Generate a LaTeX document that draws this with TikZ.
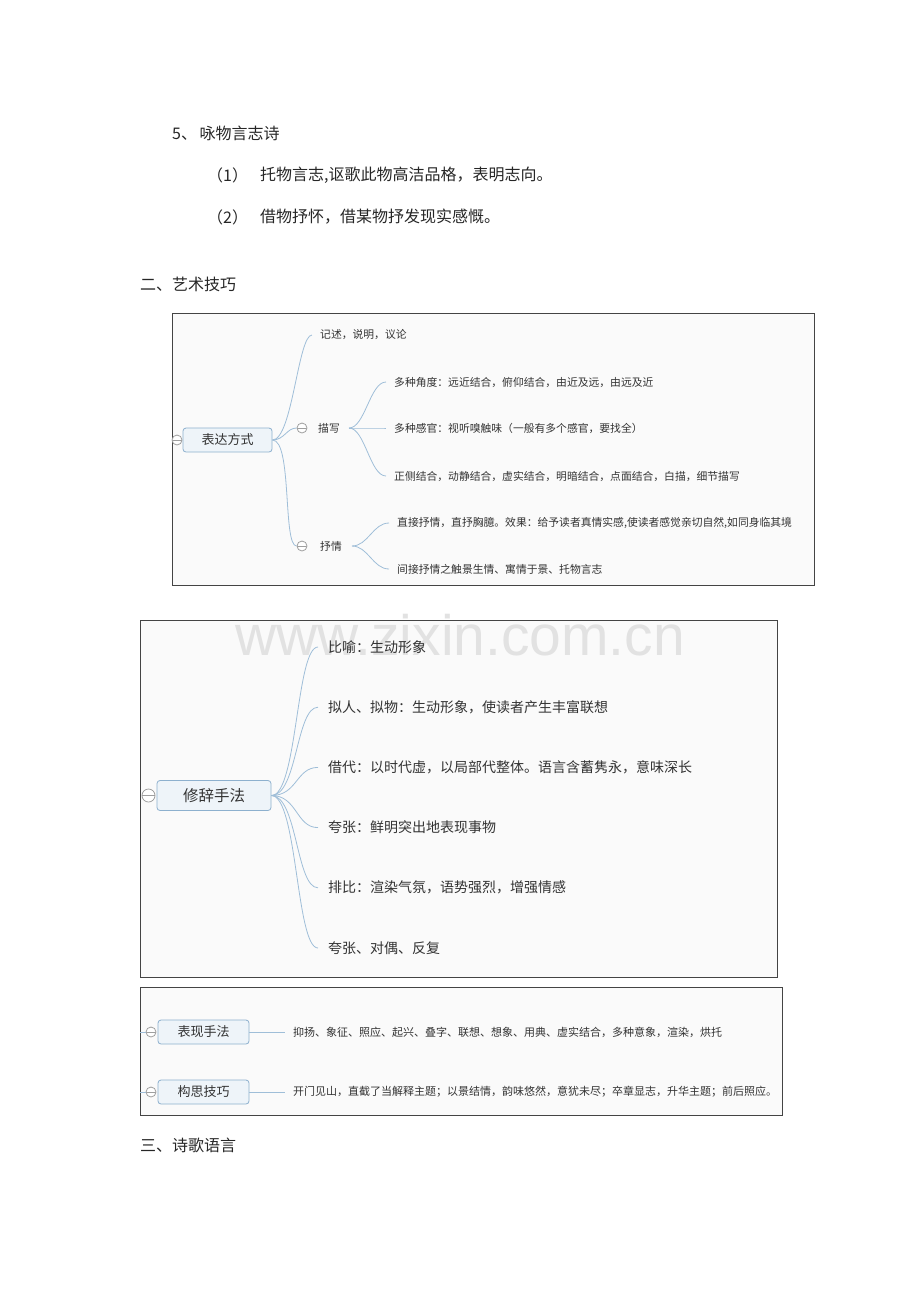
\documentclass[tikz,border=0pt]{standalone}
\usepackage{fontspec}
\setmainfont{Noto Sans CJK SC}
\newfontfamily\wmfont{Liberation Sans}
\definecolor{linkblue}{HTML}{9FBED8}
\definecolor{rootfill}{HTML}{EEF4F9}
\definecolor{rootdraw}{HTML}{8DB0CE}
\definecolor{framegray}{HTML}{444444}
\definecolor{inktext}{HTML}{333333}
\definecolor{wmgray}{HTML}{E2E2E2}
\begin{document}
\begin{tikzpicture}[x=1pt,y=-1pt,
	frame/.style={draw=framegray,line width=0.9pt,fill=white!98!black},
	rootbox/.style={draw=rootdraw,fill=rootfill,rounded corners=3pt,line width=0.8pt,text=inktext,inner sep=0pt},
	leaf/.style={anchor=west,inner xsep=8pt,inner ysep=1pt,text=inktext,font=\fontsize{10.8}{12}\selectfont},
	smallleaf/.style={leaf,font=\fontsize{11}{12}\selectfont},
	bigleaf/.style={leaf,inner xsep=10pt,font=\fontsize{14}{16}\selectfont},
	fold/.style={circle,draw=gray!75,fill=white,line width=0.8pt,minimum size=10pt,inner sep=0pt,
		path picture={\draw[gray!75,line width=0.8pt] (path picture bounding box.west)--(path picture bounding box.east);}},
	branch/.style={draw=linkblue,line width=0.8pt},
	doc/.style={anchor=west,inner sep=0pt,text=black!85,font=\fontsize{16}{18}\selectfont}]
	\useasboundingbox (0,0) rectangle (920,1302);
	% text above the maps
	\node[doc] (poem) at (172,133) {5、\,咏物言志诗};
	\node[doc] (num1) at (207,175) {（1）};
	\node[doc] (item1) at (260,175) {托物言志,讴歌此物高洁品格，表明志向。};
	\node[doc] (num2) at (207,217) {（2）};
	\node[doc] (item2) at (260,217) {借物抒怀，借某物抒发现实感慨。};
	\node[doc] (sec2) at (140,284) {二、艺术技巧};
	% map 1
	\draw[frame] (172,313) rectangle (814,585);
	\node[rootbox,minimum width=89pt,minimum height=24pt,font=\fontsize{13}{15}\selectfont] (expr) at (227.5,440) {表达方式};
	\node[fold] (exprfold) at (177,440) {};
	\node[leaf] (narr) at (312,335) {记述，说明，议论};
	\node[fold] (descfold) at (302,428) {};
	\node[leaf,inner xsep=0pt] (desc) at (318,428) {描写};
	\node[fold] (lyrfold) at (302,546) {};
	\node[leaf,inner xsep=0pt] (lyr) at (320,546) {抒情};
	\draw[branch] (expr.east) .. controls +(20,0) and +(-14,0) .. (narr.west);
	\draw[branch] (expr.east) .. controls +(12,0) and +(-10,0) .. (descfold.west);
	\draw[branch] (expr.east) .. controls +(20,0) and +(-14,0) .. (lyrfold.west);
	\coordinate (descout) at ([xshift=9pt]desc.east);
	\coordinate (lyrout) at ([xshift=10pt]lyr.east);
	\node[leaf] (angle) at (386,382) {多种角度：远近结合，俯仰结合，由近及远，由远及近};
	\node[leaf] (sense) at (386,428) {多种感官：视听嗅触味（一般有多个感官，要找全）};
	\node[leaf] (side) at (386,476) {正侧结合，动静结合，虚实结合，明暗结合，点面结合，白描，细节描写};
	\node[leaf] (direct) at (389,523) {直接抒情，直抒胸臆。效果：给予读者真情实感,使读者感觉亲切自然,如同身临其境};
	\node[leaf] (indirect) at (389,569) {间接抒情之触景生情、寓情于景、托物言志};
	\foreach \n in {angle,sense,side}\draw[branch] (descout) .. controls +(16,0) and +(-16,0) .. (\n.west);
	\foreach \n in {direct,indirect}\draw[branch] (lyrout) .. controls +(16,0) and +(-16,0) .. (\n.west);
	% map 2
	\draw[frame] (140,620) rectangle (777,977);
	\node[anchor=base west,inner sep=0pt,text=wmgray,font=\wmfont\fontsize{57}{60}\selectfont] (mark) at (235,655) {www.zixin.com.cn};
	\node[rootbox,minimum width=114pt,minimum height=30pt,font=\fontsize{15.5}{18}\selectfont] (rhet) at (214,795.5) {修辞手法};
	\node[fold,minimum size=13pt] (rhetfold) at (148.5,795.5) {};
	\foreach \txt [count=\i] in {比喻：生动形象,拟人、拟物：生动形象，使读者产生丰富联想,借代：以时代虚，以局部代整体。语言含蓄隽永，意味深长,夸张：鲜明突出地表现事物,排比：渲染气氛，语势强烈，增强情感,夸张、对偶、反复}{
		\node[bigleaf] (rhet\i) at (318,{647+60.2*(\i-1)}) {\txt};
		\draw[branch] (rhet.east) .. controls +(26,0) and +(-22,0) .. (rhet\i.west);
	}
	% map 3
	\draw[frame] (140,987) rectangle (782,1115);
	\node[rootbox,minimum width=91pt,minimum height=24pt,font=\fontsize{13}{15}\selectfont] (tech) at (203.5,1032) {表现手法};
	\node[fold] (techfold) at (151,1032) {};
	\coordinate (techin) at (140,1032);
	\node[smallleaf] (techleaf) at (285,1032) {抑扬、象征、照应、起兴、叠字、联想、想象、用典、虚实结合，多种意象，渲染，烘托};
	\draw[branch] (techin) -- (techfold.west);
	\draw[branch] (tech.east) -- (techleaf.west);
	\node[rootbox,minimum width=91pt,minimum height=24pt,font=\fontsize{13}{15}\selectfont] (idea) at (203.5,1092) {构思技巧};
	\node[fold] (ideafold) at (151,1092) {};
	\coordinate (ideain) at (140,1092);
	\node[smallleaf] (idealeaf) at (285,1092) {开门见山，直截了当解释主题；以景结情，韵味悠然，意犹未尽；卒章显志，升华主题；前后照应。};
	\draw[branch] (ideain) -- (ideafold.west);
	\draw[branch] (idea.east) -- (idealeaf.west);
	\node[doc] (sec3) at (140,1145) {三、诗歌语言};
\end{tikzpicture}
\end{document}
